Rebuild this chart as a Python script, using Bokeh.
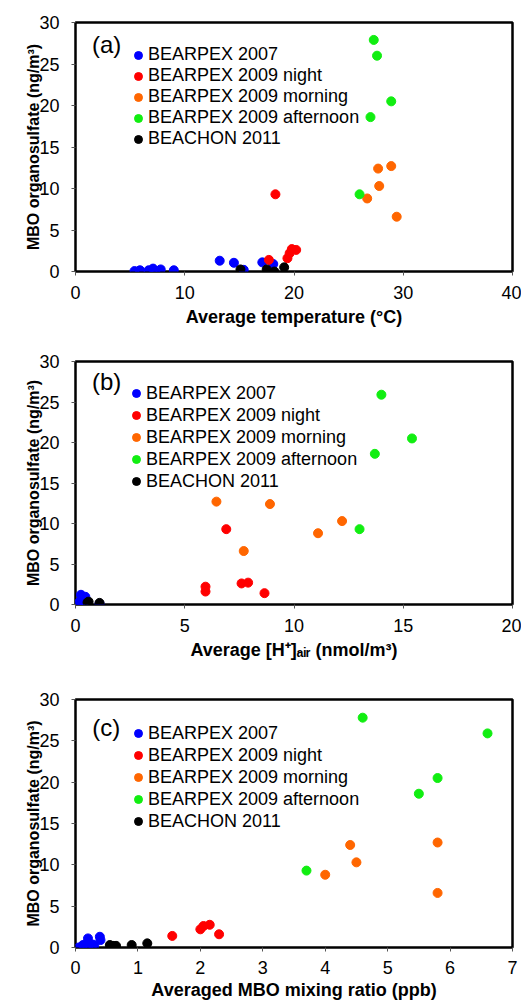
from bokeh.plotting import figure
from bokeh.layouts import column
from bokeh.models import Range1d, FixedTicker, Legend, LegendItem, Label
from bokeh.embed import file_html
from bokeh.resources import INLINE

FONT = "Liberation Sans"

series_names = ["BEARPEX 2007", "BEARPEX 2009 night", "BEARPEX 2009 morning",
                "BEARPEX 2009 afternoon", "BEACHON 2011"]
series_colors = ["#0000FF", "#FF0000", "#FF6600", "#11EE11", "#000000"]
y_ticks = [0, 5, 10, 15, 20, 25, 30]
y_label = "MBO organosulfate (ng/m³)"

# ---------------- panel (a): temperature ----------------
a_x_ticks = [0, 10, 20, 30, 40]
a_x_label = "Average temperature (°C)"
a_b07_x = [5.4, 5.9, 6.7, 7.1, 7.3, 7.8, 9.0, 13.2, 14.5, 15.4, 17.1, 18.1]
a_b07_y = [0.05, 0.15, 0.15, 0.35, 0.05, 0.25, 0.15, 1.3, 1.05, 0.2, 1.1, 0.9]
a_night_x = [17.7, 18.3, 19.4, 19.6, 19.8, 20.2]
a_night_y = [1.4, 9.3, 1.6, 2.2, 2.7, 2.6]
a_morn_x = [27.7, 28.9, 27.8, 26.7, 29.4]
a_morn_y = [12.4, 12.7, 10.3, 8.8, 6.6]
a_aft_x = [27.3, 27.6, 28.9, 27.0, 26.0]
a_aft_y = [27.9, 26.0, 20.5, 18.6, 9.3]
a_b11_x = [15.1, 17.5, 18.2, 19.1]
a_b11_y = [0.25, 0.25, 0.0, 0.5]

# ---------------- panel (b): [H+]air ----------------
b_x_ticks = [0, 5, 10, 15, 20]
b_x_label = "Average [H⁺]ₐᵢᵣ (nmol/m³)"
b_b07_x = [0.1, 0.25, 0.45, 0.35, 0.2, 0.15, 0.3, 0.4, 1.1]
b_b07_y = [0.05, 1.2, 0.95, 0.0, 0.4, 0.2, 0.6, 0.3, 0.1]
b_night_x = [6.9, 5.95, 5.95, 7.6, 7.9, 8.65]
b_night_y = [9.3, 2.2, 1.6, 2.6, 2.7, 1.4]
b_morn_x = [6.45, 8.9, 12.2, 11.1, 7.7]
b_morn_y = [12.7, 12.4, 10.3, 8.8, 6.6]
b_aft_x = [14.0, 15.4, 13.7, 13.0]
b_aft_y = [25.9, 20.5, 18.6, 9.3]
b_b11_x = [0.55, 0.6, 1.1]
b_b11_y = [0.25, 0.35, 0.2]

# ---------------- panel (c): MBO mixing ratio ----------------
c_x_ticks = [0, 1, 2, 3, 4, 5, 6, 7]
c_x_label = "Averaged MBO mixing ratio (ppb)"
c_b07_x = [0.05, 0.12, 0.2, 0.2, 0.28, 0.39, 0.4, 0.15, 0.3]
c_b07_y = [0.0, 0.3, 1.1, 0.05, 0.35, 1.3, 0.9, 0.1, 0.2]
c_night_x = [1.55, 2.0, 2.05, 2.15, 2.3]
c_night_y = [1.4, 2.2, 2.6, 2.75, 1.6]
c_morn_x = [4.4, 5.8, 4.5, 4.0, 5.8]
c_morn_y = [12.4, 12.7, 10.3, 8.8, 6.6]
c_aft_x = [4.6, 6.6, 5.8, 5.5, 3.7]
c_aft_y = [27.8, 25.9, 20.5, 18.6, 9.3]
c_b11_x = [0.55, 0.6, 0.65, 0.9, 1.15]
c_b11_y = [0.3, 0.2, 0.2, 0.3, 0.5]


def make_panel(letter, letter_xy, xmax, xticks, xlabel, data, top, fh, bottom,
               leg_loc, leg_row, tick_standoff=10, label_standoff=5):
    p = figure(frame_width=437, frame_height=fh,
               x_range=Range1d(0, xmax), y_range=Range1d(0, 30),
               output_backend="svg", toolbar_location=None,
               min_border_left=75, min_border_right=9,
               min_border_top=top, min_border_bottom=bottom)
    p.background_fill_color = "white"
    p.border_fill_color = "white"
    p.outline_line_color = "black"
    p.outline_line_width = 2.5
    p.xgrid.visible = False
    p.ygrid.visible = False

    p.xaxis.ticker = FixedTicker(ticks=xticks)
    p.yaxis.ticker = FixedTicker(ticks=y_ticks)
    for ax in (p.xaxis[0], p.yaxis[0]):
        ax.axis_line_color = None
        ax.major_tick_in = 0
        ax.major_tick_out = 4
        ax.major_tick_line_color = "#555555"
        ax.minor_tick_line_color = None
        ax.major_label_text_font = FONT
        ax.major_label_text_font_size = "18px"
        ax.major_label_text_color = "black"
        ax.axis_label_text_font = FONT
        ax.axis_label_text_font_style = "bold"
        ax.axis_label_text_color = "black"
    p.xaxis.major_label_standoff = tick_standoff
    p.yaxis.major_label_standoff = 12
    p.xaxis.axis_label = xlabel
    p.xaxis.axis_label_text_font_size = "18px"
    p.xaxis.axis_label_standoff = label_standoff
    p.yaxis.axis_label = y_label
    p.yaxis.axis_label_text_font_size = "16px"
    p.yaxis.axis_label_standoff = -6

    items = []
    for (xs, ys), name, col in zip(data, series_names, series_colors):
        r = p.scatter(xs, ys, marker="circle", size=9, fill_color=col,
                      line_color=col)
        items.append(LegendItem(label=name, renderers=[r]))

    leg = Legend(items=items, location=leg_loc, glyph_width=20,
                 glyph_height=leg_row, label_height=leg_row, spacing=0,
                 padding=0, margin=0, label_standoff=-1,
                 border_line_color=None, background_fill_alpha=0,
                 label_text_font=FONT, label_text_font_size="18px",
                 label_text_color="black")
    p.add_layout(leg)

    p.add_layout(Label(x=letter_xy[0], y=letter_xy[1], text=letter,
                       text_font=FONT, text_font_size="24px",
                       text_color="black", text_baseline="alphabetic"))
    return p


pa = make_panel("(a)", (1.5, 27.3), 40, a_x_ticks, a_x_label,
                [(a_b07_x, a_b07_y), (a_night_x, a_night_y),
                 (a_morn_x, a_morn_y), (a_aft_x, a_aft_y),
                 (a_b11_x, a_b11_y)],
                top=22, fh=249, bottom=65, leg_loc=(53, 122), leg_row=20)
pb = make_panel("(b)", (0.75, 27.5), 20, b_x_ticks, b_x_label,
                [(b_b07_x, b_b07_y), (b_night_x, b_night_y),
                 (b_morn_x, b_morn_y), (b_aft_x, b_aft_y),
                 (b_b11_x, b_b11_y)],
                top=25, fh=243, bottom=70, leg_loc=(51, 112), leg_row=22)
pc = make_panel("(c)", (0.27, 26.6), 7, c_x_ticks, c_x_label,
                [(c_b07_x, c_b07_y), (c_night_x, c_night_y),
                 (c_morn_x, c_morn_y), (c_aft_x, c_aft_y),
                 (c_b11_x, c_b11_y)],
                top=25, fh=248, bottom=57, leg_loc=(53, 115), leg_row=22,
                tick_standoff=9, label_standoff=3)

layout = column(pa, pb, pc, spacing=0)
open("out.html", "w").write(file_html(layout, INLINE))
